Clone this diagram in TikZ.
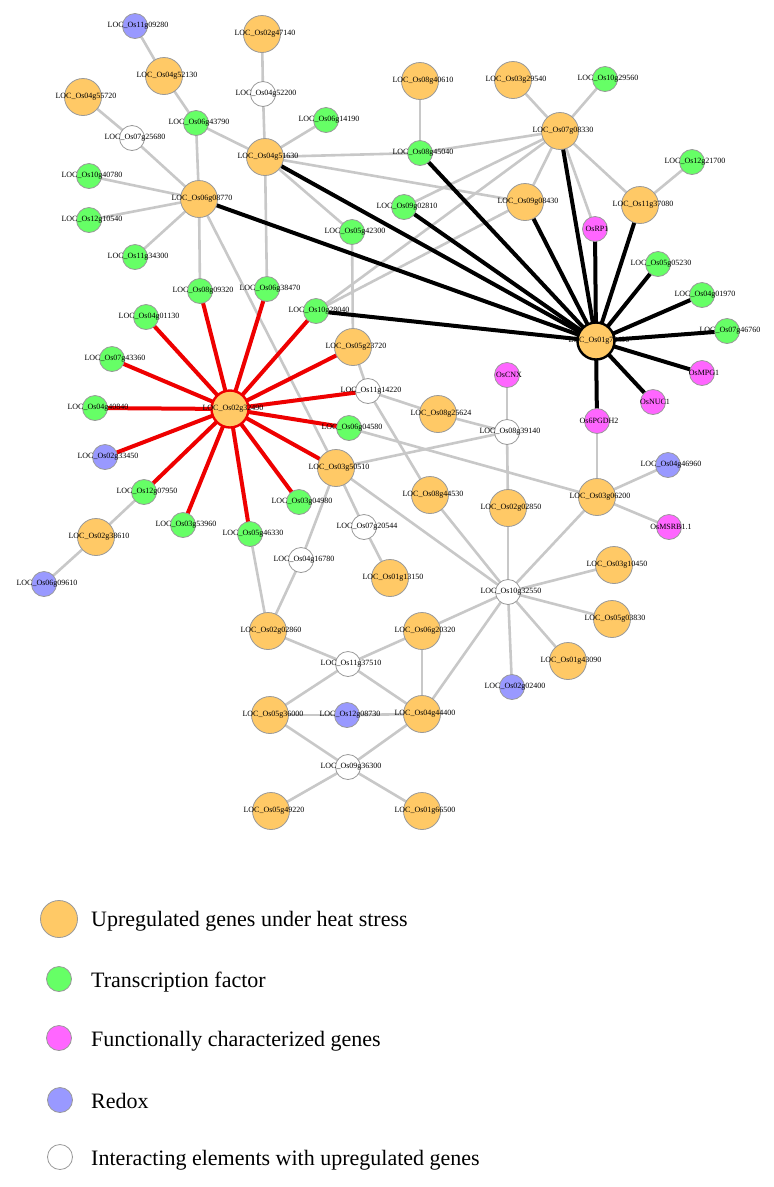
\documentclass[tikz,border=0pt]{standalone}
\usepackage{fontspec}
\setmainfont{Liberation Serif}
\pgfdeclarelayer{bg}
\pgfdeclarelayer{edges}
\pgfsetlayers{bg,edges,main}
\definecolor{upc}{HTML}{FFC966}
\definecolor{tfc}{HTML}{66FF66}
\definecolor{fcc}{HTML}{FF66FF}
\definecolor{rxc}{HTML}{9999FF}
\definecolor{bdc}{HTML}{999999}
\definecolor{edc}{HTML}{C8C8C8}
\definecolor{redc}{HTML}{EE0000}
\begin{document}
\begin{tikzpicture}[x=1pt,y=-1pt,
  nd/.style={circle,draw=bdc,line width=0.8pt,inner sep=0pt,minimum size=25pt},
  up/.style={nd,fill=upc,minimum size=37pt},
  tf/.style={nd,fill=tfc},
  fc/.style={nd,fill=fcc},
  rx/.style={nd,fill=rxc},
  ie/.style={nd,fill=white},
  lbl/.style={font=\fontsize{8}{9}\selectfont,inner sep=0pt},
  legtxt/.style={font=\fontsize{22}{26}\selectfont,inner sep=0pt,anchor=base west},
  gedge/.style={draw=edc,line width=2.6pt},
  bedge/.style={draw=black,line width=4pt},
  redge/.style={draw=redc,line width=4pt}]
\begin{pgfonlayer}{bg}
\fill[white] (0,0) rectangle (774,1187);
\end{pgfonlayer}
\useasboundingbox (0,0) rectangle (774,1187);

% upregulated genes
\foreach \n/\x/\y in {04g52130/164/76, 04g55720/83/97, 06g08770/199/199, 02g47140/262/34,
  04g51630/265/157, 08g40610/420/81, 03g29540/513/80, 07g08330/560/131, 09g08430/525/202,
  11g37080/640/205, 05g23720/353/347, 08g25624/438/414, 03g50510/336/468, 02g38610/96/537,
  08g44530/430/495, 01g13150/390/578, 02g02860/268/631, 06g20320/422/631, 02g02850/508/508,
  03g06200/597/497, 03g10450/614/565, 05g03830/612/619, 01g43090/568/661, 05g36000/270/715,
  04g44400/422/714, 05g49220/271/811, 01g66500/422/811}
  \node[up] (\n) at (\x,\y) {};
% transcription factors
\foreach \n/\x/\y in {06g43790/196/123, 10g40780/89/176, 12g10540/89/220, 06g14190/326/120,
  08g45040/420/153, 09g02810/404/207, 05g42300/352/232, 10g29560/605/79, 12g21700/692/162,
  11g34300/135/257, 08g09320/200/291, 06g38470/267/289, 04g01130/146/317, 07g43360/112/359,
  04g40840/95/408, 10g28040/316/311, 06g04580/349/428, 05g05230/658/264, 04g01970/702/295,
  07g46760/727/331, 12g07950/144/492, 03g53960/183/525, 05g46330/250/534, 03g04980/299/502}
  \node[tf] (\n) at (\x,\y) {};
% redox
\foreach \n/\x/\y in {11g09280/135/26, 02g33450/105/457, 04g46960/668/465, 06g09610/44/584,
  02g02400/512/687, 12g08730/347/715}
  \node[rx] (\n) at (\x,\y) {};
% interacting elements
\foreach \n/\x/\y in {07g25680/132/138, 04g52200/263/94, 11g14220/368/391, 08g39140/507/432,
  07g20544/364/527, 04g16780/301/560, 11g37510/348/664, 10g32550/508/592, 09g36300/348/767}
  \node[ie] (\n) at (\x,\y) {};
% functionally characterized
\node[fc] (rp1) at (595,229) {};
\node[fc] (cnx) at (507,375) {};
\node[fc] (mpg1) at (702,373) {};
\node[fc] (nuc1) at (653,402) {};
\node[fc] (pgdh2) at (597,421) {};
\node[fc] (msrb) at (669,527) {};
% hubs
\node[up,draw=black,line width=2.4pt] (hubA) at (596,341) {};
\node[up,draw=redc,line width=2.4pt] (hubB) at (230,409) {};

\begin{pgfonlayer}{edges}
\foreach \a/\b in {11g09280/04g52130, 04g52130/06g43790, 04g55720/07g25680, 07g25680/06g08770,
  06g43790/06g08770, 06g43790/04g51630, 10g40780/06g08770, 12g10540/06g08770,
  06g08770/11g34300, 06g08770/08g09320, 06g08770/03g50510, 02g47140/04g52200,
  04g52200/04g51630, 06g14190/04g51630, 04g51630/08g45040, 04g51630/09g08430,
  04g51630/06g38470, 04g51630/05g42300, 08g40610/08g45040, 08g45040/07g08330,
  07g08330/03g29540, 07g08330/10g29560, 07g08330/09g08430, 07g08330/11g37080,
  07g08330/rp1, 07g08330/09g02810, 10g28040/07g08330, 10g28040/09g08430,
  11g37080/12g21700, 05g42300/05g23720, 05g23720/11g14220, 11g14220/08g25624,
  11g14220/08g44530, 08g25624/08g39140, 06g04580/03g06200, 03g50510/08g39140,
  08g39140/cnx, 08g39140/02g02850, 02g02850/10g32550, 03g06200/pgdh2,
  03g06200/04g46960, 03g06200/msrb, 03g06200/10g32550, 03g50510/10g32550,
  03g50510/07g20544, 07g20544/01g13150, 03g50510/04g16780, 04g16780/02g02860,
  05g46330/02g02860, 08g44530/10g32550, 10g32550/03g10450, 10g32550/05g03830,
  10g32550/01g43090, 10g32550/02g02400, 10g32550/06g20320, 10g32550/04g44400,
  02g02860/11g37510, 06g20320/11g37510, 06g20320/04g44400, 11g37510/05g36000,
  11g37510/04g44400, 05g36000/12g08730, 12g08730/04g44400, 05g36000/09g36300,
  04g44400/09g36300, 09g36300/05g49220, 09g36300/01g66500, 12g07950/02g38610,
  02g38610/06g09610}
  \draw[gedge] (\a.center) -- (\b.center);
\foreach \a in {06g08770, 04g51630, 08g45040, 09g02810, 07g08330, 09g08430, rp1, 11g37080,
  05g05230, 04g01970, 07g46760, mpg1, nuc1, pgdh2, 10g28040}
  \draw[bedge] (\a.center) -- (hubA.center);
\foreach \a in {08g09320, 06g38470, 10g28040, 05g23720, 11g14220, 06g04580, 03g50510,
  03g04980, 05g46330, 03g53960, 12g07950, 02g33450, 04g40840, 07g43360, 04g01130}
  \draw[redge] (\a.center) -- (hubB.center);
\end{pgfonlayer}

% labels
\foreach \n in {04g52130, 04g55720, 06g08770, 02g47140, 04g51630, 08g40610, 03g29540,
  07g08330, 09g08430, 11g37080, 05g23720, 08g25624, 03g50510, 02g38610, 08g44530,
  01g13150, 02g02860, 06g20320, 02g02850, 03g06200, 03g10450, 05g03830, 01g43090,
  05g36000, 04g44400, 05g49220, 01g66500, 06g43790, 10g40780, 12g10540, 06g14190,
  08g45040, 09g02810, 05g42300, 10g29560, 12g21700, 11g34300, 08g09320, 06g38470,
  04g01130, 07g43360, 04g40840, 10g28040, 06g04580, 05g05230, 04g01970, 07g46760,
  12g07950, 03g53960, 05g46330, 03g04980, 11g09280, 02g33450, 04g46960, 06g09610,
  02g02400, 12g08730, 07g25680, 04g52200, 11g14220, 08g39140, 07g20544, 04g16780,
  11g37510, 10g32550, 09g36300}
  \node[lbl] (\n-l) at ([xshift=3pt]\n.center) {LOC\_Os\n};
\node[lbl] (rp1-l) at ([xshift=2pt]rp1.center) {OsRP1};
\node[lbl] (cnx-l) at ([xshift=2pt]cnx.center) {OsCNX};
\node[lbl] (mpg1-l) at ([xshift=2pt]mpg1.center) {OsMPG1};
\node[lbl] (nuc1-l) at ([xshift=2pt]nuc1.center) {OsNUC1};
\node[lbl] (pgdh2-l) at ([xshift=2pt]pgdh2.center) {Os6PGDH2};
\node[lbl] (msrb-l) at ([xshift=2pt]msrb.center) {OsMSRB1.1};
\node[lbl] (hubA-l) at ([xshift=3pt]hubA.center) {LOC\_Os01g72490};
\node[lbl] (hubB-l) at ([xshift=3pt]hubB.center) {LOC\_Os02g32490};

% legend
\node[up] (leg1) at (59,919) {};
\node[tf] (leg2) at (59,979) {};
\node[fc] (leg3) at (59,1038) {};
\node[rx] (leg4) at (60,1100) {};
\node[ie] (leg5) at (60,1157) {};
\node[legtxt] (lt1) at (91,926) {Upregulated genes under heat stress};
\node[legtxt] (lt2) at (91,987) {Transcription factor};
\node[legtxt] (lt3) at (91,1046) {Functionally characterized genes};
\node[legtxt] (lt4) at (91,1108) {Redox};
\node[legtxt] (lt5) at (91,1165) {Interacting elements with upregulated genes};
\end{tikzpicture}
\end{document}
